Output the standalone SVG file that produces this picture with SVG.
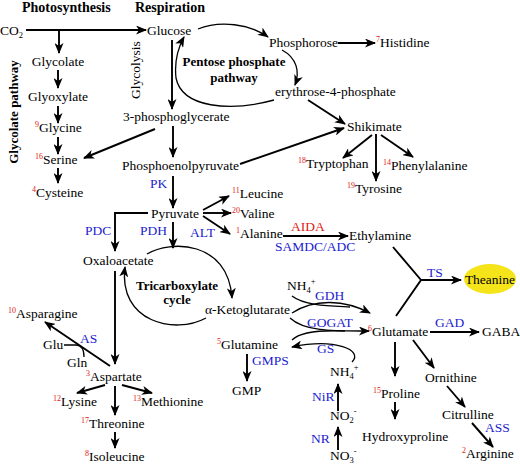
<svg xmlns="http://www.w3.org/2000/svg" width="520" height="466" viewBox="0 0 520 466">
<style>
text{font-family:"Liberation Serif","Times New Roman",serif;font-size:13.5px;fill:#000}
.b{font-weight:bold;font-size:13px}
.h{font-weight:bold;font-size:14px}
.e{fill:#1c1cd0}
.r{fill:#e01818}
.n{fill:#e01818;font-size:8px}
.s{font-size:8.5px}
.m{text-anchor:middle}
.l{fill:none;stroke:#000;stroke-width:1.9}
.c{fill:none;stroke:#000;stroke-width:1.3}
</style>
<defs>
<marker id="ah" viewBox="0 0 11 9" refX="10" refY="4.5" markerWidth="11" markerHeight="9" markerUnits="userSpaceOnUse" orient="auto"><path d="M0,0 L11,4.5 L0,9 L3,4.5 z" fill="#000"/></marker>
</defs>
<rect width="520" height="466" fill="#fff"/>
<g id="connectors">
<path class="l" d="M26 30 H146" marker-end="url(#ah)"/>
<path class="l" d="M59 30 V53" marker-end="url(#ah)"/>
<path class="l" d="M58 70 V88" marker-end="url(#ah)"/>
<path class="l" d="M58 106 V123" marker-end="url(#ah)"/>
<path class="l" d="M58 137 V154" marker-end="url(#ah)"/>
<path class="l" d="M58 168 V183" marker-end="url(#ah)"/>
<path class="l" d="M172 40 V109" marker-end="url(#ah)"/>
<path class="l" d="M155 129 L84 158" marker-end="url(#ah)"/>
<path class="l" d="M173 126 V157" marker-end="url(#ah)"/>
<path class="l" d="M173 176 V208" marker-end="url(#ah)"/>
<path class="l" d="M173 222 V248" marker-end="url(#ah)"/>
<path class="l" d="M148 213 H115 V251" marker-end="url(#ah)"/>
<path class="l" d="M203 210 L229 196" marker-end="url(#ah)"/>
<path class="l" d="M203 213 H231" marker-end="url(#ah)"/>
<path class="l" d="M203 216 L230 234" marker-end="url(#ah)"/>
<path class="l" d="M283 236 H348" marker-end="url(#ah)"/>
<path class="l" d="M240 164 L344 128" marker-end="url(#ah)"/>
<path class="l" d="M308 100 L345 124" marker-end="url(#ah)"/>
<path class="l" d="M338 43 H375" marker-end="url(#ah)"/>
<path class="l" d="M372 135 L343 158" marker-end="url(#ah)"/>
<path class="l" d="M376 134 V181" marker-end="url(#ah)"/>
<path class="l" d="M381 135 L413 157" marker-end="url(#ah)"/>
<path class="l" d="M393 247 L421 280 L396 316"/>
<path class="l" d="M421 280 H461" marker-end="url(#ah)"/>
<path class="l" d="M115 271 V364" marker-end="url(#ah)"/>
<path class="l" d="M110 366 L45 322" marker-end="url(#ah)"/>
<path class="l" d="M105 385 L77 393" marker-end="url(#ah)"/>
<path class="l" d="M122 385 L152 393" marker-end="url(#ah)"/>
<path class="l" d="M115 386 V415" marker-end="url(#ah)"/>
<path class="l" d="M115 432 V448" marker-end="url(#ah)"/>
<path class="l" d="M247 354 V381" marker-end="url(#ah)"/>
<path class="l" d="M338 450 V427" marker-end="url(#ah)"/>
<path class="l" d="M338 411 V384" marker-end="url(#ah)"/>
<path class="l" d="M430 332 H479" marker-end="url(#ah)"/>
<path class="l" d="M395 342 V376" marker-end="url(#ah)"/>
<path class="l" d="M395 402 V419" marker-end="url(#ah)"/>
<path class="l" d="M413 340 L434 368" marker-end="url(#ah)"/>
<path class="l" d="M447 386 L465 407" marker-end="url(#ah)"/>
<path class="l" d="M472 423 L493 447" marker-end="url(#ah)"/>
<path class="c" d="M198 29 C220 20 250 24 268 37" marker-end="url(#ah)"/>
<path class="c" d="M282 50 C297 58 300 72 295 85" marker-end="url(#ah)"/>
<path class="c" d="M274 100 C230 112 182 108 176 78 C174 60 178 48 184 37" marker-end="url(#ah)"/>
<path class="c" d="M147 254 C170 240 228 240 232 298" marker-end="url(#ah)"/>
<path class="c" d="M206 318 C175 335 118 322 125 267" marker-end="url(#ah)"/>
<path class="c" d="M292 296 C305 306 330 306 350 307"/>
<path class="c" d="M292 313 C315 298 345 300 370 313" marker-end="url(#ah)"/>
<path class="c" d="M290 318 C305 332 335 331 369 331" marker-end="url(#ah)"/>
<path class="c" d="M292 340 C300 332 320 330 345 331"/>
<path class="c" d="M352 362 C364 350 335 338 292 347" marker-end="url(#ah)"/>
<path class="c" d="M64 345 H76 C82 345 84 350 84 357"/>
</g>
<g id="headers">
<text class="h" x="22" y="12">Photosynthesis</text>
<text class="h" x="135" y="12">Respiration</text>
<text class="b m" transform="translate(18,112) rotate(-90)">Glycolate pathway</text>
<text class="m" transform="translate(140,70) rotate(-90)">Glycolysis</text>
</g>
<g id="n-co2"><text x="0" y="35">CO<tspan class="s" dy="3">2</tspan></text></g>
<g id="n-glycolate"><text class="m" x="58" y="66">Glycolate</text></g>
<g id="n-glyoxylate"><text class="m" x="58" y="101">Glyoxylate</text></g>
<g id="n-glycine"><text x="35" y="132"><tspan class="n" dy="-5">9</tspan><tspan dy="5">Glycine</tspan></text></g>
<g id="n-serine"><text x="35" y="164"><tspan class="n" dy="-5">16</tspan><tspan dy="5">Serine</tspan></text></g>
<g id="n-cysteine"><text x="32" y="197"><tspan class="n" dy="-5">4</tspan><tspan dy="5">Cysteine</tspan></text></g>
<g id="n-glucose"><text x="147" y="35">Glucose</text></g>
<g id="n-pentose"><text class="b m" x="234" y="66">Pentose phosphate</text><text class="b m" x="234" y="82">pathway</text></g>
<g id="n-phosphorose"><text x="269" y="47">Phosphorose</text></g>
<g id="n-histidine"><text x="376" y="47"><tspan class="n" dy="-5">7</tspan><tspan dy="5">Histidine</tspan></text></g>
<g id="n-erythrose"><text x="275" y="96">erythrose-4-phosphate</text></g>
<g id="n-shikimate"><text x="347" y="131">Shikimate</text></g>
<g id="n-tryptophan"><text x="298" y="168"><tspan class="n" dy="-5">18</tspan><tspan dy="5">Tryptophan</tspan></text></g>
<g id="n-phenylalanine"><text x="383" y="170"><tspan class="n" dy="-5">14</tspan><tspan dy="5">Phenylalanine</tspan></text></g>
<g id="n-tyrosine"><text x="347" y="193"><tspan class="n" dy="-5">19</tspan><tspan dy="5">Tyrosine</tspan></text></g>
<g id="n-3pg"><text x="123" y="121">3-phosphoglycerate</text></g>
<g id="n-pep"><text x="122" y="170">Phosphoenolpyruvate</text><text class="e" x="150" y="188">PK</text></g>
<g id="n-pyruvate"><text x="151" y="218">Pyruvate</text><text class="e" x="85" y="235">PDC</text><text class="e" x="140" y="235">PDH</text><text class="e" x="190" y="237">ALT</text></g>
<g id="n-leucine"><text x="232" y="198"><tspan class="n" dy="-5">11</tspan><tspan dy="5">Leucine</tspan></text></g>
<g id="n-valine"><text x="232" y="218"><tspan class="n" dy="-5">20</tspan><tspan dy="5">Valine</tspan></text></g>
<g id="n-alanine"><text x="236" y="238"><tspan class="n" dy="-5">1</tspan><tspan dy="5">Alanine</tspan></text><text class="r" x="291" y="231">AIDA</text><text class="e" x="275" y="251">SAMDC/ADC</text></g>
<g id="n-ethylamine"><text x="349" y="240">Ethylamine</text></g>
<g id="n-theanine"><ellipse cx="490" cy="279" rx="26" ry="15" fill="#f5e41a"/><text class="m" x="490" y="284">Theanine</text><text class="e" x="427" y="277">TS</text></g>
<g id="n-oxaloacetate"><text x="83" y="265">Oxaloacetate</text></g>
<g id="n-tca"><text class="b m" x="177" y="290">Tricarboxylate</text><text class="b m" x="177" y="304">cycle</text></g>
<g id="n-akg"><text x="205" y="314">α-Ketoglutarate</text></g>
<g id="n-nh4a"><text x="287" y="290">NH<tspan class="s" dy="3">4</tspan><tspan class="s" dy="-9">+</tspan></text><text class="e" x="315" y="300">GDH</text><text class="e" x="307" y="327">GOGAT</text><text class="e" x="317" y="353">GS</text></g>
<g id="n-glutamine"><text x="217" y="349"><tspan class="n" dy="-5">5</tspan><tspan dy="5">Glutamine</tspan></text><text class="e" x="252" y="365">GMPS</text></g>
<g id="n-gmp"><text x="232" y="395">GMP</text></g>
<g id="n-nh4b"><text x="330" y="376">NH<tspan class="s" dy="3">4</tspan><tspan class="s" dy="-9">+</tspan></text><text class="e" x="312" y="401">NiR</text></g>
<g id="n-no2"><text x="330" y="420">NO<tspan class="s" dy="3">2</tspan><tspan class="s" dy="-9">-</tspan></text><text class="e" x="311" y="443">NR</text></g>
<g id="n-no3"><text x="330" y="460">NO<tspan class="s" dy="3">3</tspan><tspan class="s" dy="-9">-</tspan></text></g>
<g id="n-glutamate"><text x="368" y="336"><tspan class="n" dy="-5">6</tspan><tspan dy="5">Glutamate</tspan></text><text class="e" x="435" y="327">GAD</text></g>
<g id="n-gaba"><text x="482" y="336">GABA</text></g>
<g id="n-proline"><text x="373" y="398"><tspan class="n" dy="-5">15</tspan><tspan dy="5">Proline</tspan></text></g>
<g id="n-hydroxyproline"><text x="362" y="441">Hydroxyproline</text></g>
<g id="n-ornithine"><text x="425" y="382">Ornithine</text></g>
<g id="n-citrulline"><text x="442" y="419">Citrulline</text><text class="e" x="485" y="432">ASS</text></g>
<g id="n-arginine"><text x="462" y="458"><tspan class="n" dy="-5">2</tspan><tspan dy="5">Arginine</tspan></text></g>
<g id="n-asparagine"><text x="8" y="318"><tspan class="n" dy="-5">10</tspan><tspan dy="5">Asparagine</tspan></text><text class="e" x="80" y="343">AS</text><text x="43" y="349">Glu</text><text x="67" y="367">Gln</text></g>
<g id="n-aspartate"><text x="86" y="381"><tspan class="n" dy="-5">3</tspan><tspan dy="5">Aspartate</tspan></text></g>
<g id="n-lysine"><text x="53" y="406"><tspan class="n" dy="-5">12</tspan><tspan dy="5">Lysine</tspan></text></g>
<g id="n-methionine"><text x="133" y="406"><tspan class="n" dy="-5">13</tspan><tspan dy="5">Methionine</tspan></text></g>
<g id="n-threonine"><text x="81" y="428"><tspan class="n" dy="-5">17</tspan><tspan dy="5">Threonine</tspan></text></g>
<g id="n-isoleucine"><text x="85" y="461"><tspan class="n" dy="-5">8</tspan><tspan dy="5">Isoleucine</tspan></text></g>
</svg>
